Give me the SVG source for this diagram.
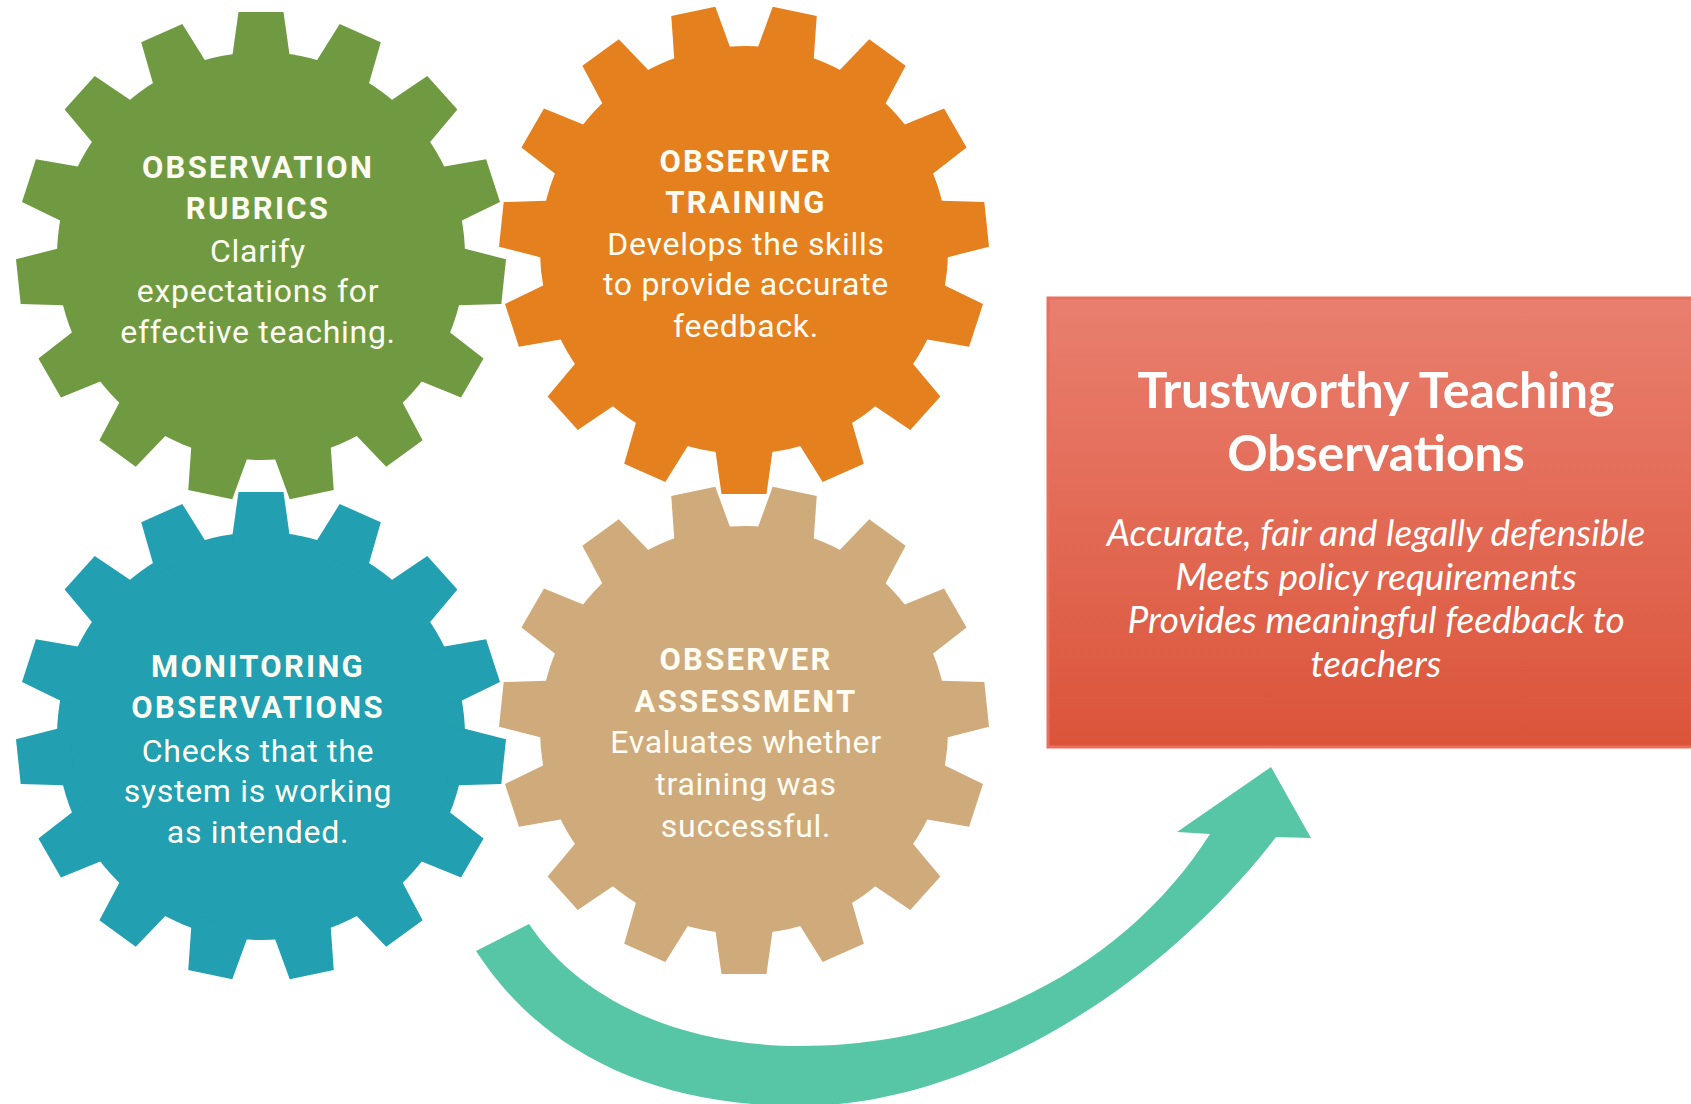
<svg xmlns="http://www.w3.org/2000/svg" xmlns:xlink="http://www.w3.org/1999/xlink" width="1691" height="1104" viewBox="0 0 1691 1104">
<style>
.hd{font-family:Roboto,"Liberation Sans",sans-serif;font-weight:700;font-size:31px;letter-spacing:2.3px;fill:#FFFDF2;text-anchor:middle}
.bd{font-family:Roboto,"Liberation Sans",sans-serif;font-weight:400;font-size:32px;letter-spacing:0.7px;fill:#FFFDF2;text-anchor:middle}
.tt{font-family:Lato,"Open Sans",sans-serif;font-weight:700;font-size:50px;fill:#FFFFFF;text-anchor:middle}
.it{font-family:Lato,"Open Sans",sans-serif;font-style:italic;font-size:37px;fill:#FFFFFF;text-anchor:middle}
</style>
<defs>
<polygon id="tooth" points="-28.4,-190 -28.4,-202 -22.5,-244 22.5,-244 28.4,-202 28.4,-190"/>
<g id="gear">
<circle r="204"/>
<use xlink:href="#tooth"/>
<use xlink:href="#tooth" transform="rotate(24)"/>
<use xlink:href="#tooth" transform="rotate(48)"/>
<use xlink:href="#tooth" transform="rotate(72)"/>
<use xlink:href="#tooth" transform="rotate(96)"/>
<use xlink:href="#tooth" transform="rotate(120)"/>
<use xlink:href="#tooth" transform="rotate(144)"/>
<use xlink:href="#tooth" transform="rotate(168)"/>
<use xlink:href="#tooth" transform="rotate(192)"/>
<use xlink:href="#tooth" transform="rotate(216)"/>
<use xlink:href="#tooth" transform="rotate(240)"/>
<use xlink:href="#tooth" transform="rotate(264)"/>
<use xlink:href="#tooth" transform="rotate(288)"/>
<use xlink:href="#tooth" transform="rotate(312)"/>
<use xlink:href="#tooth" transform="rotate(336)"/>
</g>
<linearGradient id="boxgrad" x1="0" y1="0" x2="0" y2="1">
<stop offset="0" stop-color="#E97F6F"/>
<stop offset="1" stop-color="#DB543A"/>
</linearGradient>
</defs>
<rect width="1691" height="1104" fill="#FFFFFF"/>

<g id="gear-observation-rubrics">
<use xlink:href="#gear" transform="translate(261,256)" fill="#709A41"/>
<text class="hd" x="258" y="178">OBSERVATION</text>
<text class="hd" x="258" y="219">RUBRICS</text>
<text class="bd" x="258" y="262">Clarify</text>
<text class="bd" x="258" y="302">expectations for</text>
<text class="bd" x="258" y="343">effective teaching.</text>
</g>

<g id="gear-observer-training">
<use xlink:href="#gear" transform="translate(744,250) rotate(12)" fill="#E5801F"/>
<text class="hd" x="746" y="172">OBSERVER</text>
<text class="hd" x="746" y="213">TRAINING</text>
<text class="bd" x="746" y="255">Develops the skills</text>
<text class="bd" x="746" y="295">to provide accurate</text>
<text class="bd" x="746" y="337">feedback.</text>
</g>

<g id="gear-monitoring-observations">
<use xlink:href="#gear" transform="translate(261,736)" fill="#229FB1"/>
<text class="hd" x="258" y="677">MONITORING</text>
<text class="hd" x="258" y="718">OBSERVATIONS</text>
<text class="bd" x="258" y="762">Checks that the</text>
<text class="bd" x="258" y="802">system is working</text>
<text class="bd" x="258" y="843">as intended.</text>
</g>

<g id="gear-observer-assessment">
<use xlink:href="#gear" transform="translate(744,730) rotate(12)" fill="#CFAA7B"/>
<text class="hd" x="746" y="670">OBSERVER</text>
<text class="hd" x="746" y="712">ASSESSMENT</text>
<text class="bd" x="746" y="753">Evaluates whether</text>
<text class="bd" x="746" y="795">training was</text>
<text class="bd" x="746" y="837">successful.</text>
</g>

<g id="outcome-box">
<rect x="1048" y="298" width="660" height="449" fill="url(#boxgrad)" stroke="#E8705E" stroke-width="3"/>
<text class="tt" x="1376" y="408">Trustworthy Teaching</text>
<text class="tt" x="1376" y="471">Observations</text>
<text class="it" x="1376" y="546">Accurate, fair and legally defensible</text>
<text class="it" x="1376" y="590">Meets policy requirements</text>
<text class="it" x="1376" y="633">Provides meaningful feedback to</text>
<text class="it" x="1376" y="677">teachers</text>
</g>

<g id="connectors">
<path d="M476,951 C540,1050 650,1106 800,1106 C960,1106 1150,1000 1276,837 L1311,838 L1271,767 L1177,832 L1210,834 C1130,960 980,1046 800,1046 C680,1046 580,1000 529,924 Z" fill="#57C6A6"/>
</g>
</svg>
